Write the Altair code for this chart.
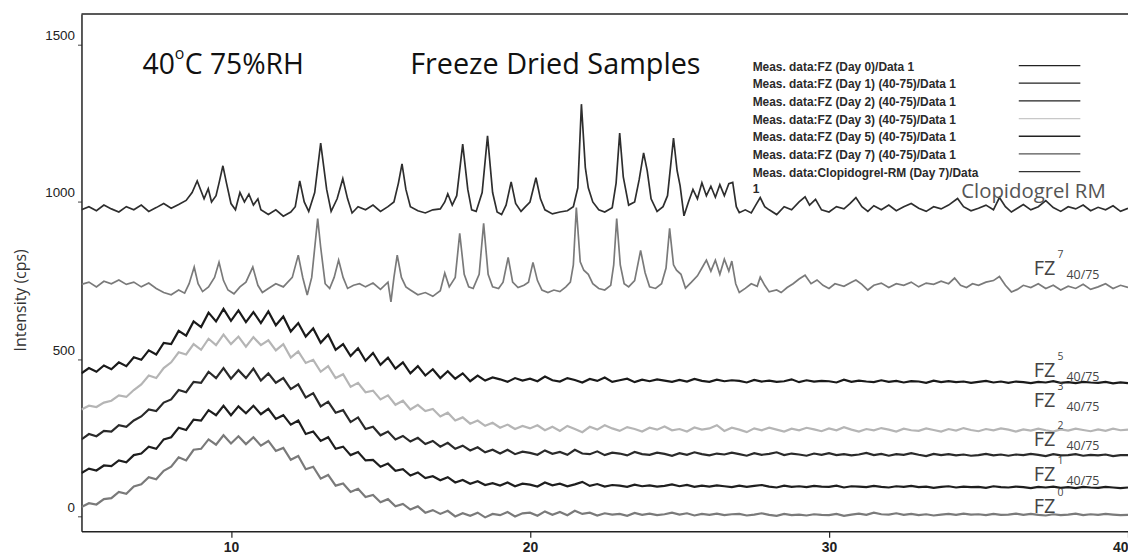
import altair as alt
import pandas as pd

# ---------------- data (intensity in cps) ----------------
# amorphous patterns sampled every 0.25 deg 2-theta starting at 5.0
fz0_day0 = [30, 42, 38, 55, 58, 78, 72, 95, 102, 125, 118, 145, 158, 188, 178, 212,
            215, 245, 228, 258, 232, 255, 230, 252, 225, 240, 208, 218, 180, 192, 150, 158,
            120, 132, 98, 105, 78, 88, 62, 68, 45, 55, 32, 40, 22, 32, 12, 20,
            8, 18, 0, 10, 2, 12, -3, 8, 4, 14, 0, 10, 12, 2, 16, 5,
            14, 4, 18, 8, 12, 3, 10, 6, 8, 2, 11, 5, 9, 4, 7, 12,
            6, 10, 3, 8, 5, 9, 4, 7, 8, 3, 6, 10, 5, 2, 8, 4,
            6, 3, 7, 5, 4, 8, 2, 6, 9, 5, 12, 7, 6, 10, 5, 8,
            4, 7, 3, 6, 8, 5, 9, 6, 7, 4, 8, 5, 6, 9, 5, 8,
            5, 3, 7, 4, 6, 9, 4, 7, 5, 8, 6, 4, 5]
fz1_day1 = [138, 152, 146, 162, 160, 178, 172, 195, 200, 222, 215, 245, 252, 282, 275, 308,
            305, 338, 322, 352, 322, 350, 328, 352, 325, 342, 310, 322, 292, 305, 262, 270,
            240, 252, 215, 222, 195, 205, 178, 180, 158, 168, 145, 150, 130, 140, 122, 128,
            115, 125, 108, 116, 104, 112, 100, 106, 98, 108, 96, 104, 101, 95, 108, 99,
            104, 96, 102, 110, 97, 103, 95, 100, 98, 94, 101, 96, 99, 95, 97, 102,
            96, 100, 94, 98, 95, 99, 96, 93, 98, 94, 97, 100, 95, 92, 98, 94,
            96, 93, 97, 95, 94, 98, 92, 96, 95, 93, 97, 94, 92, 96, 94, 97,
            93, 95, 91, 94, 96, 92, 95, 93, 94, 91, 96, 93, 92, 95, 93, 90,
            94, 92, 95, 91, 93, 90, 94, 92, 91, 94, 92, 90, 92]
fz2_day2 = [245, 262, 255, 272, 270, 290, 285, 305, 318, 340, 335, 362, 372, 402, 395, 428,
            425, 460, 440, 472, 438, 465, 440, 470, 432, 455, 425, 440, 405, 420, 378, 392,
            350, 365, 330, 338, 300, 315, 278, 285, 258, 270, 245, 256, 238, 250, 230, 240,
            222, 234, 215, 225, 210, 220, 204, 212, 200, 212, 198, 206, 202, 196, 210, 199,
            205, 196, 212, 200, 198, 207, 195, 203, 200, 194, 205, 198, 196, 203, 199, 193,
            201, 196, 204, 198, 194, 200, 197, 203, 198, 193, 201, 196, 199, 204, 195, 200,
            197, 193, 200, 196, 201, 195, 198, 194, 197, 202, 195, 199, 193, 198, 196, 201,
            196, 192, 199, 195, 198, 194, 197, 193, 195, 199, 194, 197, 193, 197, 195, 199,
            196, 192, 198, 194, 195, 198, 193, 196, 194, 197, 192, 195, 195]
fz3_day3 = [340, 352, 348, 362, 368, 385, 380, 402, 420, 448, 440, 472, 490, 522, 515, 548,
            530, 565, 545, 578, 548, 572, 540, 570, 545, 560, 528, 548, 505, 525, 488, 498,
            460, 478, 440, 452, 412, 425, 395, 400, 372, 385, 355, 368, 340, 355, 335, 342,
            318, 330, 305, 315, 295, 305, 288, 298, 282, 292, 278, 288, 280, 290, 274, 285,
            272, 288, 278, 268, 285, 276, 290, 280, 272, 284, 278, 270, 282, 276, 286, 274,
            278, 270, 283, 276, 280, 290, 272, 282, 276, 268, 280, 274, 282, 276, 270, 279,
            274, 282, 277, 271, 280, 274, 284, 276, 270, 278, 274, 281, 276, 270, 279, 274,
            272, 280, 275, 270, 278, 273, 281, 275, 271, 278, 274, 280, 276, 270, 277, 273,
            279, 274, 270, 277, 273, 279, 275, 271, 277, 272, 279, 274, 276]
fz5_day5 = [455, 472, 460, 480, 468, 490, 478, 506, 498, 528, 515, 552, 548, 590, 575, 620,
            602, 648, 620, 660, 622, 655, 618, 650, 615, 652, 608, 636, 588, 615, 572, 598,
            552, 578, 530, 548, 510, 535, 495, 520, 482, 505, 470, 490, 455, 478, 448, 468,
            440, 462, 438, 455, 430, 448, 432, 442, 436, 428, 440, 432, 438, 430, 445, 433,
            429, 440, 434, 426, 437, 431, 442, 428, 433, 438, 427, 435, 430, 436, 432, 428,
            434, 429, 437, 431, 428, 435, 430, 433, 431, 426, 434, 429, 432, 428, 430, 436,
            427, 433, 429, 431, 430, 426, 435, 428, 432, 429, 427, 433, 428, 431, 426, 430,
            429, 425, 432, 427, 430, 427, 429, 425, 428, 431, 426, 429, 425, 429, 427, 424,
            428, 426, 430, 425, 427, 424, 428, 426, 425, 428, 423, 426, 424]

# crystalline patterns: (2-theta, intensity)
fz7_points = [(5.0, 738), (5.25, 745), (5.5, 730), (5.75, 748), (6.0, 740), (6.25, 752), (6.5, 738),
              (6.75, 745), (7.0, 730), (7.25, 742), (7.5, 725), (7.75, 712), (8.0, 705), (8.25, 720),
              (8.45, 710), (8.6, 740), (8.77, 793), (8.9, 740), (9.05, 715), (9.25, 730), (9.45, 760),
              (9.6, 808), (9.75, 750), (9.9, 720), (10.1, 708), (10.3, 730), (10.5, 745), (10.73, 793),
              (10.9, 735), (11.05, 712), (11.25, 725), (11.5, 740), (11.75, 730), (11.9, 745),
              (12.05, 760), (12.25, 831), (12.4, 760), (12.55, 704), (12.7, 760), (12.9, 947),
              (13.0, 856), (13.15, 740), (13.3, 725), (13.45, 760), (13.6, 815), (13.75, 760),
              (13.9, 725), (14.1, 735), (14.3, 740), (14.5, 730), (14.75, 742), (15.0, 722),
              (15.25, 745), (15.35, 682), (15.45, 760), (15.56, 831), (15.7, 760), (15.85, 730),
              (16.0, 720), (16.25, 705), (16.5, 712), (16.75, 700), (17.0, 718), (17.15, 774),
              (17.3, 730), (17.5, 760), (17.65, 900), (17.8, 770), (17.95, 730), (18.1, 725),
              (18.3, 770), (18.45, 932), (18.6, 770), (18.75, 730), (18.95, 725), (19.1, 745),
              (19.27, 824), (19.42, 745), (19.6, 728), (19.8, 735), (19.95, 745), (20.1, 808),
              (20.25, 750), (20.4, 720), (20.6, 712), (20.8, 720), (21.0, 715), (21.2, 730),
              (21.35, 745), (21.45, 800), (21.55, 982), (21.68, 810), (21.8, 783), (21.95, 770),
              (22.1, 740), (22.3, 725), (22.5, 720), (22.7, 735), (22.8, 800), (22.9, 947),
              (23.02, 800), (23.15, 740), (23.3, 730), (23.5, 750), (23.7, 846), (23.85, 775),
              (24.0, 730), (24.2, 725), (24.4, 740), (24.55, 790), (24.67, 916), (24.8, 800),
              (24.9, 783), (25.05, 770), (25.2, 726), (25.4, 745), (25.6, 765), (25.75, 790),
              (25.9, 815), (26.05, 780), (26.2, 815), (26.35, 770), (26.5, 818), (26.65, 780),
              (26.75, 812), (26.88, 740), (27.0, 712), (27.2, 725), (27.4, 740), (27.6, 732),
              (27.7, 761), (27.85, 735), (28.0, 714), (28.25, 720), (28.4, 712), (28.6, 728),
              (28.8, 740), (29.0, 755), (29.2, 767), (29.4, 740), (29.6, 752), (29.8, 735),
              (30.0, 725), (30.2, 740), (30.5, 732), (30.75, 745), (30.9, 752), (31.1, 738),
              (31.3, 720), (31.5, 735), (31.75, 742), (32.0, 728), (32.25, 740), (32.5, 735),
              (32.75, 745), (33.0, 730), (33.25, 742), (33.5, 738), (33.75, 748), (34.0, 740),
              (34.2, 758), (34.4, 735), (34.6, 728), (34.8, 740), (35.0, 735), (35.25, 745),
              (35.5, 750), (35.7, 763), (35.9, 735), (36.1, 714), (36.3, 722), (36.5, 735),
              (36.75, 728), (37.0, 740), (37.25, 725), (37.5, 735), (37.75, 720), (38.0, 732),
              (38.25, 725), (38.5, 738), (38.75, 722), (39.0, 730), (39.25, 740), (39.5, 725),
              (39.75, 735), (40.0, 728)]
rm_points = [(5.0, 975), (5.25, 985), (5.5, 972), (5.75, 990), (6.0, 978), (6.25, 968), (6.5, 985),
             (6.75, 975), (7.0, 990), (7.25, 970), (7.5, 982), (7.75, 995), (8.0, 980), (8.25, 992),
             (8.5, 1005), (8.7, 1030), (8.87, 1067), (9.0, 1035), (9.1, 1010), (9.24, 1042),
             (9.35, 1000), (9.5, 1020), (9.6, 1060), (9.73, 1115), (9.85, 1060), (10.0, 995),
             (10.15, 975), (10.3, 1030), (10.45, 1000), (10.6, 1025), (10.75, 990), (10.9, 1010),
             (11.0, 975), (11.25, 960), (11.5, 975), (11.75, 955), (12.0, 968), (12.15, 985),
             (12.3, 1067), (12.45, 1000), (12.6, 970), (12.8, 1030), (13.0, 1187), (13.2, 1040),
             (13.35, 970), (13.55, 1010), (13.74, 1074), (13.9, 1010), (14.05, 965), (14.25, 985),
             (14.5, 975), (14.75, 990), (15.0, 970), (15.25, 985), (15.45, 1000), (15.6, 1060),
             (15.72, 1121), (15.85, 1040), (16.0, 985), (16.25, 972), (16.5, 965), (16.75, 975),
             (17.0, 978), (17.15, 1000), (17.25, 1026), (17.4, 990), (17.55, 1020), (17.75, 1184),
             (17.92, 1040), (18.05, 975), (18.2, 970), (18.4, 1030), (18.58, 1210), (18.75, 1030),
             (18.9, 968), (19.05, 960), (19.2, 990), (19.37, 1064), (19.52, 995), (19.7, 970),
             (19.85, 985), (20.0, 1000), (20.2, 1077), (20.35, 1010), (20.5, 975), (20.75, 962),
             (21.0, 968), (21.25, 972), (21.45, 985), (21.6, 1045), (21.72, 1311), (21.85, 1110),
             (21.95, 1045), (22.1, 1000), (22.3, 975), (22.5, 968), (22.75, 982), (22.88, 1060),
             (23.0, 1219), (23.12, 1080), (23.3, 990), (23.5, 1000), (23.65, 1070), (23.8, 1156),
             (23.92, 1100), (24.05, 1010), (24.25, 970), (24.45, 985), (24.6, 1020), (24.8, 1203),
             (24.92, 1100), (25.02, 1052), (25.15, 956), (25.3, 1000), (25.45, 1040), (25.6, 1010),
             (25.75, 1061), (25.9, 1020), (26.05, 1050), (26.2, 1015), (26.35, 1055), (26.5, 1020),
             (26.65, 1058), (26.78, 1062), (26.9, 985), (27.0, 966), (27.2, 975), (27.4, 965),
             (27.55, 990), (27.7, 1014), (27.85, 985), (28.0, 975), (28.25, 960), (28.5, 985),
             (28.75, 975), (29.0, 1000), (29.2, 1016), (29.35, 990), (29.55, 1008), (29.75, 975),
             (30.0, 968), (30.25, 985), (30.5, 978), (30.7, 995), (30.9, 1014), (31.1, 985),
             (31.3, 970), (31.5, 988), (31.75, 975), (32.0, 990), (32.25, 972), (32.5, 985),
             (32.75, 995), (33.0, 980), (33.25, 970), (33.5, 985), (33.75, 978), (34.0, 990),
             (34.3, 1011), (34.5, 985), (34.75, 972), (35.0, 980), (35.25, 990), (35.5, 975),
             (35.7, 1014), (35.9, 985), (36.1, 968), (36.3, 980), (36.5, 992), (36.75, 975),
             (37.0, 985), (37.25, 1004), (37.5, 982), (37.75, 970), (38.0, 985), (38.25, 978),
             (38.5, 990), (38.75, 972), (39.0, 983), (39.25, 975), (39.5, 988), (39.75, 970),
             (40.0, 980)]

legend_labels = ["Meas. data:FZ (Day 0)/Data 1",
                 "Meas. data:FZ (Day 1) (40-75)/Data 1",
                 "Meas. data:FZ (Day 2) (40-75)/Data 1",
                 "Meas. data:FZ (Day 3) (40-75)/Data 1",
                 "Meas. data:FZ (Day 5) (40-75)/Data 1",
                 "Meas. data:FZ (Day 7) (40-75)/Data 1",
                 "Meas. data:Clopidogrel-RM (Day 7)/Data"]
x_ticks = [10, 20, 30, 40]
y_ticks = [0, 500, 1000, 1500]

# ---------------- styling ----------------
colors = {"d0": "#7a7a7a", "d1": "#1e1e1e", "d2": "#2a2a2a", "d3": "#b5b5b5",
          "d5": "#1a1a1a", "d7": "#7a7a7a", "rm": "#2e2e2e"}
legend_colors = ["#222", "#222", "#222", "#c8c8c8", "#222", "#555", "#333"]

W, H = 1054, 521
OX, OY = 82, 12  # page position of plot origin


def amorph_df(vals):
    return pd.DataFrame({"angle": [5 + 0.25 * i for i in range(len(vals))], "intensity": vals})


def pts_df(pts):
    return pd.DataFrame({"angle": [p[0] for p in pts], "intensity": [p[1] for p in pts]})


x_axis = alt.Axis(values=x_ticks, title=None, grid=False, labelFont="Liberation Sans",
                  labelFontSize=14, labelFontWeight="bold", labelColor="#222",
                  tickSize=6, tickColor="#222", tickWidth=1.2, domainColor="#222",
                  domainWidth=1.5, labelPadding=3, format="d")
y_axis = alt.Axis(values=y_ticks, title="Intensity (cps)", grid=False, format="d",
                  titleFont="Open Sans", titleFontSize=16, titleFontWeight="normal",
                  titleColor="#333", titleX=-61, titleY=288, titleBaseline="middle",
                  labelFont="Liberation Sans", labelFontSize=13.5, labelColor="#222",
                  labelOffset=-9, tickSize=4, tickColor="#444", domainColor="#222",
                  domainWidth=1.5, labelPadding=3)

X = alt.X("angle:Q", scale=alt.Scale(domain=[5, 40], nice=False, zero=False), axis=x_axis)
Y = alt.Y("intensity:Q", scale=alt.Scale(domain=[-47, 1598], nice=False, zero=False), axis=y_axis)

layers = []
for key, data, sw in [("d3", amorph_df(fz3_day3), 2.2), ("d0", amorph_df(fz0_day0), 2.2),
                      ("d1", amorph_df(fz1_day1), 2.2), ("d2", amorph_df(fz2_day2), 2.2),
                      ("d5", amorph_df(fz5_day5), 2.2), ("d7", pts_df(fz7_points), 1.7),
                      ("rm", pts_df(rm_points), 1.7)]:
    layers.append(alt.Chart(data).mark_line(color=colors[key], strokeWidth=sw, clip=True)
                  .encode(x=X, y=Y))

# top frame line
layers.append(alt.Chart(pd.DataFrame({"a": [0]})).mark_rule(color="#222", strokeWidth=1.5)
              .encode(x=alt.value(0), x2=alt.value(W), y=alt.value(0)))


def txt(text, px, py, size, color="#333", font="Open Sans", weight="normal",
        align="left", baseline="alphabetic"):
    return (alt.Chart(pd.DataFrame({"t": [text]}))
            .mark_text(font=font, fontSize=size, fontWeight=weight, color=color,
                       align=align, baseline=baseline)
            .encode(text="t:N", x=alt.value(px - OX), y=alt.value(py - OY)))


# titles
layers += [txt("40", 176, 73, 28.5, "#111", align="right"), txt("o", 176, 57, 16, "#111"),
           txt("C 75%RH", 186, 73, 28.5, "#111"),
           txt("Freeze Dried Samples", 413, 73, 29, "#111")]

# manual legend
for i, lab in enumerate(legend_labels):
    yy = 65 + 17.8 * i
    layers.append(txt(lab, 758, yy, 12, "#2a2a2a", "Liberation Sans", "bold", baseline="middle"))
    layers.append(alt.Chart(pd.DataFrame({"a": [0]})).mark_rule(color=legend_colors[i], strokeWidth=1.3)
                  .encode(x=alt.value(1026 - OX), x2=alt.value(1088 - OX), y=alt.value(yy - 1 - OY)))
layers.append(txt("1", 758, 188, 12, "#2a2a2a", "Liberation Sans", "bold", baseline="middle"))

# curve annotations
layers.append(txt("Clopidogrel RM", 968, 197, 20.5, "#555"))
for sup, base, sub in [("7", 275, True), ("5", 378, True), ("3", 408, True),
                       ("2", 447, True), ("1", 482, True), ("0", 515, False)]:
    layers.append(txt("FZ", 1041, base, 20, "#444"))
    layers.append(txt(sup, 1065, base - 17, 10.5, "#444"))
    if sub:
        layers.append(txt("40/75", 1074, base + 4, 12.5, "#444"))

chart = (alt.layer(*layers)
         .properties(width=W, height=H, background="white",
                     padding={"left": 74, "top": 4, "right": 0, "bottom": 22},
                     autosize=alt.AutoSizeParams(type="none"))
         .configure_view(stroke=None))

chart.save("out.html", embed_options={"renderer": "svg", "actions": False})
